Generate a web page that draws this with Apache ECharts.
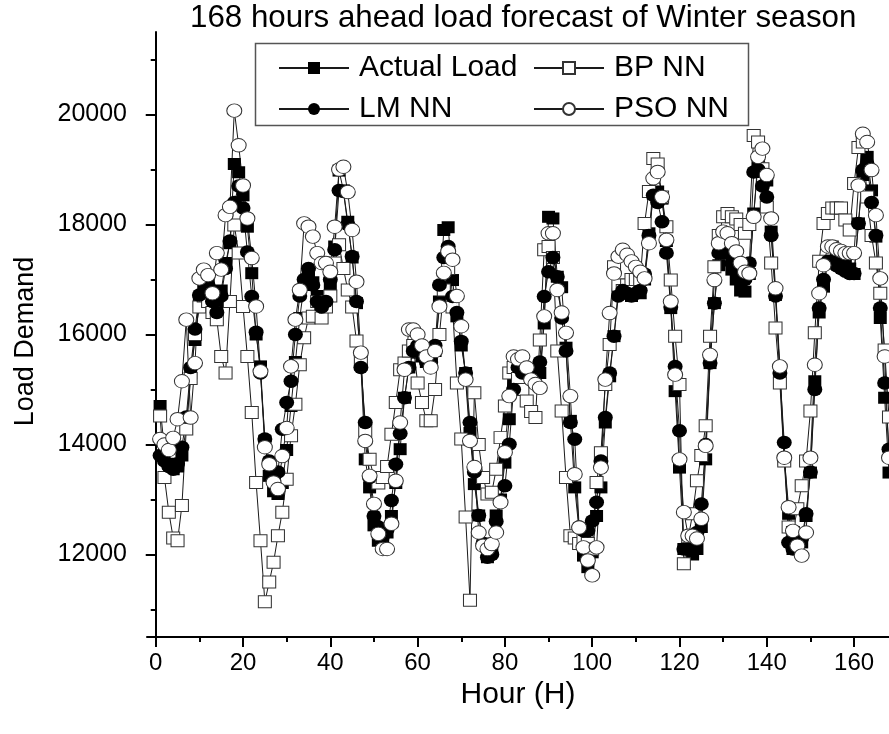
<!DOCTYPE html>
<html><head><meta charset="utf-8">
<script src="https://cdn.jsdelivr.net/npm/echarts@6/dist/echarts.min.js"></script>
<style>html,body{margin:0;padding:0;background:#fff}#c{width:889px;height:734px}</style>
</head><body><div id="c"></div>
<script>
const chartTitle = '168 hours ahead load forecast of Winter season';
const xName = 'Hour (H)';
const yName = 'Load Demand';
const xTicks = [0, 20, 40, 60, 80, 100, 120, 140, 160];
const xMinorTicks = [10, 30, 50, 70, 90, 110, 130, 150];
const yTicks = [12000, 14000, 16000, 18000, 20000];
const yMinorTicks = [11000, 13000, 15000, 17000, 19000, 21000];

const actualLoad = [
14700,13900,13650,13550,13600,13800,14300,15300,15900,16600,16800,16900,16700,16500,16800,17300,17660,19100,18950,18530,17960,17115,16000,15420,
14065,13430,13150,13100,13300,13900,14700,15500,16300,16900,17100,16950,16700,16500,16600,16870,17600,18980,18620,18050,17400,16570,15450,13730,
13220,12530,12250,12300,12400,12700,13300,13915,14850,15400,15670,15760,15600,15500,15500,15700,16600,17900,17950,16990,16330,15800,15300,14210,
13280,12710,12200,11950,12100,12710,13000,13670,14460,15120,15500,15300,15360,15200,15250,15300,16200,18140,18110,17050,16860,15760,14430,13220,
12430,11980,11770,12040,12700,13220,14400,15240,15970,16840,16800,16750,16700,16800,16750,17000,17840,18560,18600,18470,17700,16480,14970,13580,
12100,12100,12000,12100,12500,13730,15480,16570,17260,17480,17480,17180,17000,16800,16780,17100,18200,19100,18955,18800,17870,16720,15300,13730,
12740,12100,12220,12220,12700,13490,15150,16400,16870,17300,17600,17500,17400,17300,17200,17100,18020,18900,19230,18620,17780,16300,14850,13490
];
const bpNN = [
14520,13400,12770,12300,12250,12890,14280,15200,16000,16500,16700,16600,16400,16270,15600,15300,16600,17990,17480,16510,15600,14580,13310,12250,
11140,11500,11860,12340,12770,13370,14160,14730,15450,15940,16300,16330,16600,16300,16500,16700,17300,17630,17200,16810,16500,15880,15540,14250,
13730,13400,13300,13400,13600,14185,14765,15360,15480,15700,15800,15120,14765,14430,14430,15000,16000,16810,17200,16500,15120,14100,12680,11170,
14940,14000,13400,13100,13130,13550,14125,14700,15300,15400,15200,15000,14790,14600,14490,15900,17540,17600,17400,15700,14610,13400,12340,12300,
12200,12300,12200,12100,13310,13850,15090,15820,17230,16900,16800,16900,17000,17000,17000,18020,18600,19200,19100,18500,17960,16990,15970,15090,
11830,12300,12740,13340,13800,14340,15970,17230,17800,18140,18200,18140,18100,18000,17840,18000,19620,19500,19015,18320,17300,16120,15120,13700,
12500,12400,12830,13250,13700,14610,16030,17330,18020,18200,18300,18300,18300,18080,17900,18745,19400,19500,18500,17800,17300,16750,15720,14500
];
const lmNN = [
13800,13700,13600,13550,13650,13950,14500,15400,16100,16720,17000,16900,16600,16400,16700,17200,17700,18400,18700,18300,17500,16690,16040,15300,
14100,13700,13400,13500,14276,14765,15150,16000,16700,17000,17200,16900,16600,16500,16600,17000,17540,18620,18600,18000,17420,16600,15400,14400,
13400,12700,12500,12350,12450,12980,13640,14200,14850,15400,15700,15800,15700,15500,15500,15800,16900,17400,17600,16690,16400,15875,15300,14400,
13500,12710,12200,11950,12000,12600,12950,13250,14005,15000,15400,15300,15300,15200,15300,15500,16690,17140,17400,17050,16300,15700,14400,14095,
12500,12430,12430,12610,12950,13700,14490,15300,15970,16700,16800,16750,16700,16750,16800,17100,17800,18530,18400,18050,17480,16500,15420,14250,
12100,12100,12100,12400,12920,14000,15480,16570,17480,17480,17480,17300,17140,17100,17000,17300,18955,19000,18700,18500,17800,16700,15300,14035,
12220,12100,12220,12300,12740,13500,15000,16480,17000,17330,17300,17250,17200,17150,17110,17110,18020,18990,19100,18400,17800,16480,15120,13915
];
const psoNN = [
14100,14000,13900,14120,14460,15150,16270,14490,15480,17020,17180,17080,16750,17480,17180,18170,18320,20070,19440,18710,18110,17390,16510,15330,
13950,13640,13310,13190,13790,14300,15420,16270,16810,18020,17960,17780,17480,17300,17300,17140,17960,19000,19050,18590,17900,16960,15670,14065,
13430,12920,12375,12100,12100,12560,13340,14400,15360,16090,16090,16000,15800,15600,15400,15700,16510,17120,17510,17360,16700,16150,15180,14065,
13590,12400,12160,12100,12190,12400,12950,13860,14880,15600,15550,15600,15400,15180,15100,15030,16330,17840,17840,16810,16400,16030,14880,13460,
12490,12130,11890,11620,12130,13580,15180,16390,17110,17415,17540,17450,17330,17230,17140,17020,17660,18840,18955,18500,17720,16600,15270,13730,
12770,12340,12340,12290,12650,13975,15630,16990,17660,17870,17840,17660,17510,17300,17140,17110,18140,19230,19380,18900,18110,16840,15420,13760,
12860,12430,12160,11980,12400,13760,15450,16750,17260,17600,17600,17550,17520,17480,17480,17480,18710,19650,19500,18990,18170,17020,15600,13760
];

const font = '"Liberation Sans", Arial, sans-serif';
const hourOf = i => i + 1;
const pairs = arr => arr.map((v, i) => [hourOf(i), v]);
const lineCol = '#1a1a1a';
const plain = v => String(v);

const chart = echarts.init(document.getElementById('c'), null, {renderer: 'canvas'});
const axisCommonX = {type: 'value', min: -2, max: 168, splitLine: {show: false}};
const axisCommonY = {type: 'value', min: 10500, max: 21500, splitLine: {show: false}};

chart.setOption({
  animation: false,
  backgroundColor: '#fff',
  textStyle: {fontFamily: font, color: '#000'},
  title: {
    text: chartTitle, left: 190, top: 3, padding: 0,
    textStyle: {fontSize: 31.3, fontWeight: 'normal', color: '#000', fontFamily: font}
  },
  grid: {left: 147, top: 32, right: 0, bottom: 97, containLabel: false, outerBoundsMode: 'none'},
  xAxis: [
    Object.assign({}, axisCommonX, {
      position: 'bottom',
      name: xName, nameLocation: 'middle', nameGap: 38,
      nameTextStyle: {fontSize: 30, color: '#000', fontFamily: font},
      axisLine: {show: true, lineStyle: {color: '#000', width: 2}},
      axisTick: {show: true, customValues: xTicks, length: 10, lineStyle: {color: '#000', width: 2}},
      axisLabel: {show: true, customValues: xTicks, formatter: plain, fontSize: 24, color: '#000', margin: 14, fontFamily: font}
    }),
    Object.assign({}, axisCommonX, {
      position: 'bottom',
      axisLine: {show: false},
      axisTick: {show: true, customValues: xMinorTicks, length: 5, lineStyle: {color: '#000', width: 2}},
      axisLabel: {show: false}
    })
  ],
  yAxis: [
    Object.assign({}, axisCommonY, {
      position: 'left',
      name: yName, nameLocation: 'middle', nameGap: 108,
      nameTextStyle: {fontSize: 27, color: '#000', fontFamily: font, padding: [0, 14, 0, 0]},
      axisLine: {show: true, lineStyle: {color: '#000', width: 2}},
      axisTick: {show: true, customValues: yTicks, length: 10, lineStyle: {color: '#000', width: 2}},
      axisLabel: {show: true, customValues: yTicks, formatter: plain, fontSize: 25, color: '#000', margin: 20, fontFamily: font}
    }),
    Object.assign({}, axisCommonY, {
      position: 'left',
      axisLine: {show: false},
      axisTick: {show: true, customValues: yMinorTicks, length: 5, lineStyle: {color: '#000', width: 2}},
      axisLabel: {show: false}
    })
  ],
  legend: [
    {
      left: 278, top: 53, orient: 'vertical', padding: 0, itemWidth: 70, itemHeight: 15, itemGap: 11,
      data: ['Actual Load', 'LM NN'],
      textStyle: {fontSize: 30, color: '#000', lineHeight: 30, fontFamily: font, padding: [0, 0, 0, 5]}
    },
    {
      left: 533, top: 53, orient: 'vertical', padding: 0, itemWidth: 70, itemHeight: 15, itemGap: 11,
      data: ['BP NN', 'PSO NN'],
      textStyle: {fontSize: 30, color: '#000', lineHeight: 30, fontFamily: font, padding: [0, 0, 0, 5]}
    }
  ],
  graphic: [{
    type: 'rect', left: 253, top: 41, z: 100,
    shape: {width: 493, height: 82},
    style: {fill: 'none', stroke: '#555', lineWidth: 1.5}
  }],
  series: [
    {
      name: 'Actual Load', type: 'line', data: pairs(actualLoad),
      symbol: 'rect', symbolSize: [13, 12], showAllSymbol: true,
      lineStyle: {color: lineCol, width: 1},
      itemStyle: {color: '#000', borderColor: '#000', borderWidth: 0}
    },
    {
      name: 'BP NN', type: 'line', data: pairs(bpNN),
      symbol: 'rect', symbolSize: [13, 12], showAllSymbol: true,
      lineStyle: {color: lineCol, width: 1},
      itemStyle: {color: '#fff', borderColor: '#333', borderWidth: 1}
    },
    {
      name: 'LM NN', type: 'line', data: pairs(lmNN),
      symbol: 'circle', symbolSize: [15, 13.5], showAllSymbol: true,
      lineStyle: {color: lineCol, width: 1},
      itemStyle: {color: '#000', borderColor: '#000', borderWidth: 0}
    },
    {
      name: 'PSO NN', type: 'line', data: pairs(psoNN),
      symbol: 'circle', symbolSize: [15, 13.5], showAllSymbol: true,
      lineStyle: {color: lineCol, width: 1},
      itemStyle: {color: '#fff', borderColor: '#333', borderWidth: 1}
    }
  ]
});
</script>
</body></html>
